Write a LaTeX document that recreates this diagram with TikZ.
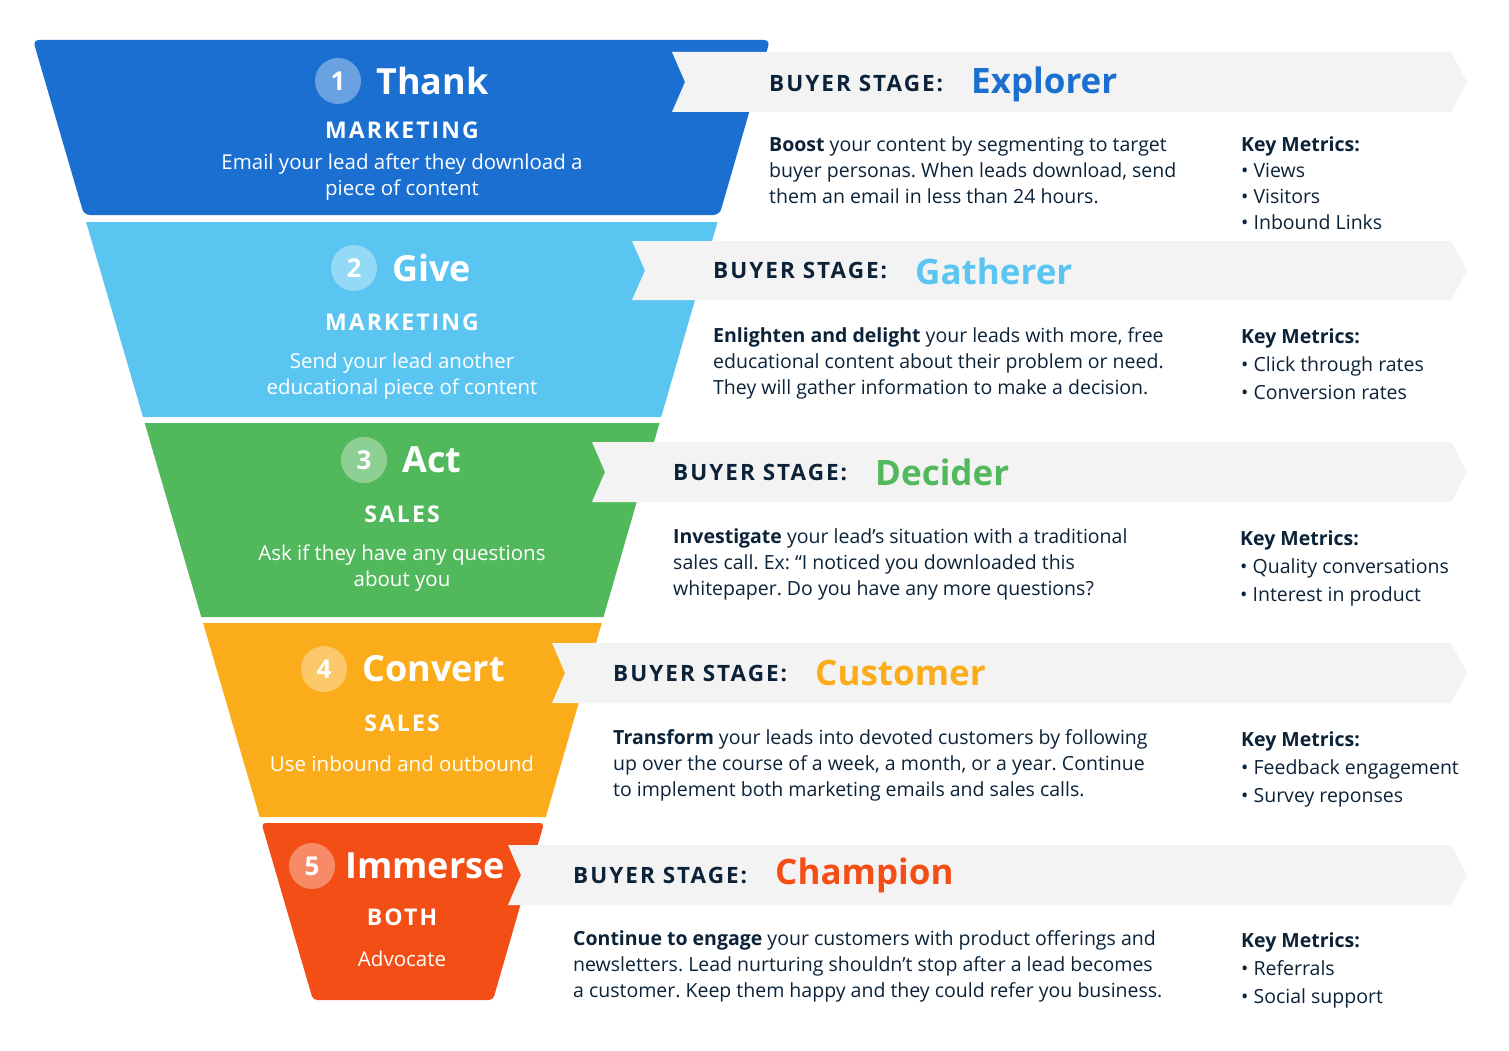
\documentclass[tikz,border=0pt]{standalone}
\usepackage{fontspec}
\setmainfont{Open Sans}
\newfontfamily\spaced[LetterSpace=9]{Open Sans}
\definecolor{cA}{HTML}{1A6FD1}
\definecolor{cB}{HTML}{5BC5F2}
\definecolor{cC}{HTML}{52B85C}
\definecolor{cD}{HTML}{FBAC1A}
\definecolor{cE}{HTML}{F44E17}
\definecolor{navy}{HTML}{0B2239}
\definecolor{band}{HTML}{F3F3F3}
\begin{document}
\frenchspacing
\begin{tikzpicture}[x=1pt,y=-1pt,
  ttl/.style={font=\fontsize{36}{40}\selectfont\bfseries,text=white,anchor=west,inner sep=0},
  num/.style={circle,fill=white,fill opacity=0.35,text opacity=1,minimum size=46,inner sep=0,font=\fontsize{26}{28}\selectfont\bfseries,text=white},
  role/.style={font=\fontsize{23}{25}\selectfont\spaced\bfseries,text=white,inner sep=0},
  sub/.style={font=\fontsize{20.5}{26}\selectfont,text=white,align=center,inner sep=0},
  buyer/.style={font=\fontsize{22.5}{24}\selectfont\spaced\bfseries,text=navy,anchor=west,inner sep=0},
  stage/.style={font=\fontsize{35}{36}\selectfont\bfseries,anchor=west,inner sep=0},
  body/.style={font=\fontsize{19.5}{26}\selectfont,text=navy,align=left,anchor=north west,inner sep=0},
  keym/.style={body,font=\fontsize{19.5}{28}\selectfont},
  banner/.style={fill=band}]
\useasboundingbox (0,0) rectangle (1509,1051);
\fill[white] (0,0) rectangle (1509,1051);
% funnel
\fill[cA,rounded corners=6] (33,40) -- (770,40) -- (719.5,215) -- (84,215) -- cycle;
\fill[cB] (86.1,222) -- (717.5,222) -- (661.2,417) -- (143,417) -- cycle;
\fill[cC] (144.7,423) -- (659.5,423) -- (603.5,617) -- (201.3,617) -- cycle;
\fill[cD] (203.1,623) -- (601.8,623) -- (545.8,817) -- (259.7,817) -- cycle;
\fill[cE,rounded corners=4] (261.4,823) -- (544.1,823) -- (493,1000) -- (313,1000) -- cycle;
% banners
\foreach \l/\t/\b in {672/52/112, 632/241/300, 592/442/502, 552/643/703, 508/845/905}{
  \fill[banner] (\l,\t) -- (1451,\t) -- (1467,{(\t+\b)/2}) -- (1451,\b) -- (\l,\b) -- (\l+13,{(\t+\b)/2}) -- cycle;
}
% funnel texts
\node[num] (n1) at (338,81) {1};
\node[ttl] (t1) at (376,81) {Thank};
\node[role] (r1) at (402,130) {MARKETING};
\node[sub] (s1) at (402,177) {Email your lead after they download a\\piece of content};
\node[num] (n2) at (354,268) {2};
\node[ttl] (t2) at (392,268) {Give};
\node[role] (r2) at (402,322) {MARKETING};
\node[sub] (s2) at (402,376) {Send your lead another\\educational piece of content};
\node[num] (n3) at (364,460) {3};
\node[ttl] (t3) at (402,460) {Act};
\node[role] (r3) at (402,514) {SALES};
\node[sub] (s3) at (402,568) {Ask if they have any questions\\about you};
\node[num] (n4) at (324,669) {4};
\node[ttl] (t4) at (362,669) {Convert};
\node[role] (r4) at (402,723) {SALES};
\node[sub] (s4) at (402,764) {Use inbound and outbound};
\node[num] (n5) at (312,866) {5};
\node[ttl] (t5) at (345,866) {Immerse};
\node[role] (r5) at (402,917) {BOTH};
\node[sub] (s5) at (402,959) {Advocate};
% right side
\node[buyer] (b1) at (769,84) {BUYER STAGE:};
\node[stage,text=cA] (g1) at (971,84) {Explorer};
\node[body] (d1) at (769,136) {\textbf{Boost} your content by segmenting to target\\buyer personas. When leads download, send\\them an email in less than 24 hours.};
\node[body] (k1) at (1241,136) {\textbf{Key Metrics:}\\• Views\\• Visitors\\• Inbound Links};
\node[buyer] (b2) at (713,271) {BUYER STAGE:};
\node[stage,text=cB] (g2) at (915,271) {Gatherer};
\node[body] (d2) at (713,327) {\textbf{Enlighten and delight} your leads with more, free\\educational content about their problem or need.\\They will gather information to make a decision.};
\node[keym] (k2) at (1241,328) {\textbf{Key Metrics:}\\• Click through rates\\• Conversion rates};
\node[buyer] (b3) at (673,472) {BUYER STAGE:};
\node[stage,text=cC] (g3) at (875,472) {Decider};
\node[body] (d3) at (673,528) {\textbf{Investigate} your lead’s situation with a traditional\\sales call. Ex: “I noticed you downloaded this\\whitepaper. Do you have any more questions?};
\node[keym] (k3) at (1240,530) {\textbf{Key Metrics:}\\• Quality conversations\\• Interest in product};
\node[buyer] (b4) at (613,673) {BUYER STAGE:};
\node[stage,text=cD] (g4) at (815,673) {Customer};
\node[body] (d4) at (613,729) {\textbf{Transform} your leads into devoted customers by following\\up over the course of a week, a month, or a year. Continue\\to implement both marketing emails and sales calls.};
\node[keym] (k4) at (1241,731) {\textbf{Key Metrics:}\\• Feedback engagement\\• Survey reponses};
\node[buyer] (b5) at (573,875) {BUYER STAGE:};
\node[stage,text=cE] (g5) at (775,875) {Champion};
\node[body] (d5) at (573,930) {\textbf{Continue to engage} your customers with product offerings and\\newsletters. Lead nurturing shouldn’t stop after a lead becomes\\a customer. Keep them happy and they could refer you business.};
\node[keym] (k5) at (1241,932) {\textbf{Key Metrics:}\\• Referrals\\• Social support};
\end{tikzpicture}
\end{document}
